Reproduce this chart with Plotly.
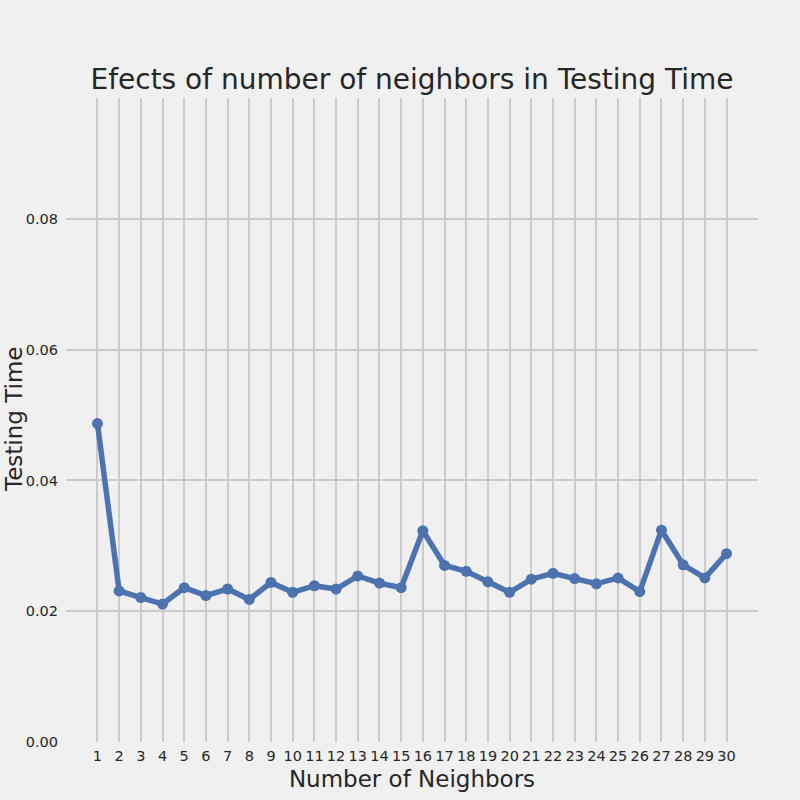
import plotly.graph_objects as go

neighbors = list(range(1, 31))
testing_time = [0.0487, 0.0231, 0.0221, 0.0211, 0.0236, 0.0224, 0.0234, 0.0218, 0.0244, 0.0229,
                0.0239, 0.0234, 0.0254, 0.0243, 0.0236, 0.0323, 0.0270, 0.0261, 0.0245, 0.0229,
                0.0249, 0.0258, 0.0250, 0.0242, 0.0251, 0.0230, 0.0324, 0.0271, 0.0251, 0.0288]
y_ticks = [0.0, 0.02, 0.04, 0.06, 0.08]

fig = go.Figure()
fig.add_trace(go.Scatter(x=neighbors, y=testing_time, mode="lines+markers",
                         line=dict(color="#4C72B0", width=5.5),
                         marker=dict(color="#4C72B0", size=11)))

fig.update_layout(
    width=800, height=800,
    paper_bgcolor="#f0f0f0", plot_bgcolor="#f0f0f0",
    font=dict(family="DejaVu Sans", color="#262626"),
    margin=dict(l=66, r=42, t=98, b=56),
    showlegend=False,
    title=dict(text="Efects of number of neighbors in Testing Time", x=0.5, xref="paper",
               y=1 - 79 / 800, yanchor="middle", font=dict(size=28)),
)
fig.update_xaxes(range=[-0.45, 31.45], tickvals=neighbors, ticktext=[str(n) for n in neighbors],
                 showgrid=True, gridcolor="#cbcbcb", gridwidth=1.6, zeroline=False,
                 showline=False, ticks="", tickfont=dict(size=14.5), ticklabelstandoff=3,
                 title=dict(text="Number of Neighbors", font=dict(size=23), standoff=8))
fig.update_yaxes(range=[0, 0.0985], tickvals=y_ticks, ticktext=["%.2f" % v for v in y_ticks],
                 showgrid=True, gridcolor="#cbcbcb", gridwidth=1.6, zeroline=False,
                 showline=False, ticks="", tickfont=dict(size=14.5), ticklabelstandoff=7,
                 automargin=False)

# y title hugs the left edge
fig.add_annotation(text="Testing Time", textangle=-90, font=dict(size=23),
                   xref="paper", yref="paper", x=(14 - 66) / 692, y=0.5,
                   xanchor="center", yanchor="middle", showarrow=False)

# drop the page's default body margin so the figure fills the window
fig.write_html("out.html", config={"displayModeBar": False},
               post_script="document.body.style.margin='0';document.body.style.background='#f0f0f0';")
